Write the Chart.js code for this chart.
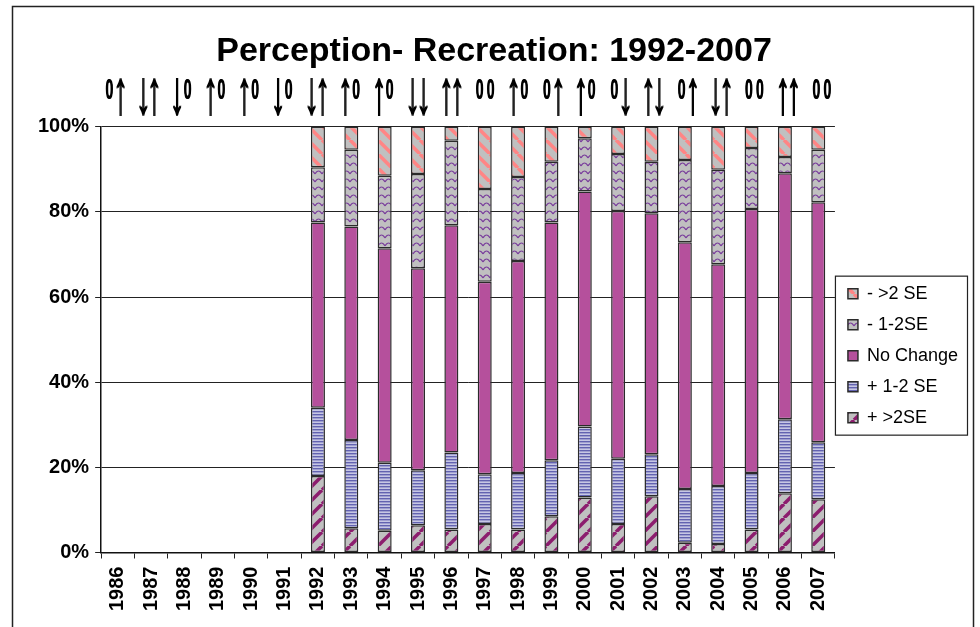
<!DOCTYPE html>
<html>
<head>
<meta charset="utf-8">
<script src="https://cdn.jsdelivr.net/npm/chart.js@4.4.1/dist/chart.umd.min.js"></script>
<style>
  html, body { margin: 0; padding: 0; background: #fff; }
</style>
</head>
<body>
<canvas id="canvas1" width="980" height="627"></canvas>
<script>
var years = ['1986', '1987', '1988', '1989', '1990', '1991', '1992', '1993', '1994', '1995', '1996',
             '1997', '1998', '1999', '2000', '2001', '2002', '2003', '2004', '2005', '2006', '2007'];

// percent of cases in each class, bottom of the stack first
var plusOver2  = [null, null, null, null, null, null, 18.0, 5.7, 5.1, 6.4, 5.4, 6.7, 5.4, 8.5, 12.9, 6.7, 13.2, 2.3, 2.0, 5.4, 13.9, 12.5];
var plusOneTwo = [null, null, null, null, null, null, 16.0, 20.7, 16.0, 12.9, 18.1, 11.7, 13.3, 13.2, 16.7, 15.3, 9.9, 12.6, 13.6, 13.3, 17.4, 13.4];
var noChange   = [null, null, null, null, null, null, 43.5, 50.2, 50.4, 47.5, 53.4, 45.2, 49.8, 55.8, 55.2, 58.2, 56.6, 58.0, 52.1, 62.0, 57.8, 56.4];
var minOneTwo  = [null, null, null, null, null, null, 13.0, 18.0, 17.0, 22.1, 19.8, 21.8, 19.7, 14.3, 12.5, 13.4, 12.1, 19.3, 22.2, 14.3, 3.8, 12.3];
var minOver2   = [null, null, null, null, null, null, 9.5, 5.4, 11.5, 11.1, 3.3, 14.6, 11.8, 8.2, 2.7, 6.4, 8.2, 7.8, 10.1, 5.0, 7.1, 5.4];

var seriesNames = ['+ >2SE', '+ 1-2 SE', 'No Change', '- 1-2SE', '- >2 SE'];

// trend symbols printed above each year
var trendMarks = ['0↑', '↓↑', '↓0', '↑0', '↑0', '↓0', '↓↑', '↑0', '↑0', '↓↓', '↑↑',
                  '00', '↑0', '0↑', '↑0', '0↓', '↑↓', '0↑', '↓↑', '00', '↑↑', '00'];

var yTicks = [0, 20, 40, 60, 80, 100];

function tile(w, h, paint) {
    var c = document.createElement('canvas');
    c.width = w; c.height = h;
    var g = c.getContext('2d');
    paint(g);
    return g.createPattern(c, 'repeat');
}

function diagonal(bg, fg, up) {
    var s = 14;
    return tile(s, s, function(g){
        g.fillStyle = bg; g.fillRect(0, 0, s, s);
        g.strokeStyle = fg; g.lineWidth = 3.5;
        [-s, 0, s].forEach(function(o){
            g.beginPath();
            if (up) { g.moveTo(o, s); g.lineTo(o + s, 0); }
            else { g.moveTo(o, 0); g.lineTo(o + s, s); }
            g.stroke();
        });
    });
}

var hatchPlus = diagonal('#c0c0c0', '#8c1d6e', true);
var hatchMinus = diagonal('#c0c0c0', '#ff8585', false);
var stripesBlue = tile(4, 3, function(g){
    g.fillStyle = '#c6c6e4'; g.fillRect(0, 0, 4, 3);
    g.fillStyle = '#6262b0'; g.fillRect(0, 0, 4, 1.4);
});
var waves = tile(7, 8, function(g){
    g.fillStyle = '#c0c0c0'; g.fillRect(0, 0, 7, 8);
    g.strokeStyle = '#7a3f9c'; g.lineWidth = 1.2;
    g.beginPath(); g.moveTo(0, 6); g.quadraticCurveTo(3.5, 0, 7, 6); g.stroke();
});

function drawGlyph(ctx, ch, left, top, w, h) {
    var m = ctx.measureText(ch);
    var gw = m.actualBoundingBoxLeft + m.actualBoundingBoxRight;
    var gh = m.actualBoundingBoxAscent + m.actualBoundingBoxDescent;
    ctx.save();
    ctx.translate(left, top);
    ctx.scale(w / gw, h / gh);
    ctx.fillText(ch, m.actualBoundingBoxLeft, m.actualBoundingBoxAscent);
    ctx.restore();
}

var extras = {
    id: 'extras',
    beforeDraw: function(chart) {
        var ctx = chart.ctx;
        ctx.save();
        ctx.fillStyle = '#fff';
        ctx.fillRect(0, 0, chart.width, chart.height);
        ctx.strokeStyle = '#222';
        ctx.lineWidth = 1.5;
        ctx.strokeRect(12.5, 6.5, 961, 700);
        ctx.restore();
    },
    afterLayout: function(chart) {
        chart.legend.top += 16;
        chart.legend.bottom += 16;
        if (chart.titleBlock) {
            chart.titleBlock.left -= 6;
            chart.titleBlock.right -= 6;
        }
    },
    afterDraw: function(chart) {
        var ctx = chart.ctx;
        var hb = chart.legend.legendHitBoxes;
        if (hb && hb.length) {
            var top = Math.min.apply(null, hb.map(function(b){ return b.top; }));
            var bottom = Math.max.apply(null, hb.map(function(b){ return b.top + b.height; }));
            ctx.save();
            ctx.strokeStyle = '#222';
            ctx.lineWidth = 1.2;
            ctx.strokeRect(chart.chartArea.right + 0.5, top - 8.5, chart.legend.right - chart.chartArea.right - 1, bottom - top + 17);
            ctx.restore();
        }
        var xs = chart.scales.x;
        ctx.save();
        ctx.font = 'bold 40px "Liberation Sans", Arial, sans-serif';
        ctx.fillStyle = '#000';
        ctx.textAlign = 'left';
        ctx.textBaseline = 'alphabetic';
        trendMarks.forEach(function(mark, i){
            var cx = xs.getPixelForValue(i) - 3 + i * 0.31;
            Array.from(mark).forEach(function(ch, k){
                var left = k === 0 ? cx - 9 : cx + 2;
                // each symbol drawn twice, half a pixel apart, for heavier strokes
                if (ch === '0') {
                    drawGlyph(ctx, ch, left - 0.25, 77.5, 7, 21);
                    drawGlyph(ctx, ch, left + 0.25, 77.5, 7, 21);
                } else {
                    drawGlyph(ctx, ch, left - 0.5, 77, 7.5, 40);
                    drawGlyph(ctx, ch, left + 0.5, 77, 7.5, 40);
                }
            });
        });
        ctx.restore();
    }
};

var fills = [hatchPlus, stripesBlue, '#b5509c', waves, hatchMinus];
var values = [plusOver2, plusOneTwo, noChange, minOneTwo, minOver2];

new Chart(document.getElementById('canvas1'), {
    type: 'bar',
    data: {
        labels: years,
        datasets: values.map(function(v, i){
            return {
                label: seriesNames[i],
                data: v,
                backgroundColor: fills[i],
                borderColor: '#2b2b2b',
                borderWidth: 1.5,
                borderSkipped: false,
                barPercentage: 0.42,
                categoryPercentage: 1.0
            };
        })
    },
    options: {
        responsive: false,
        animation: false,
        layout: { padding: { top: 8, left: 32, right: 12, bottom: 8 } },
        plugins: {
            title: {
                display: true,
                text: 'Perception- Recreation: 1992-2007',
                color: '#000',
                font: { family: '"Liberation Sans", Arial, sans-serif', size: 34, weight: 'bold' },
                padding: { top: 23, bottom: 55 }
            },
            legend: {
                position: 'right',
                fullSize: false,
                reverse: true,
                labels: {
                    boxWidth: 10,
                    boxHeight: 10,
                    padding: 13,
                    color: '#000',
                    font: { family: '"Liberation Sans", Arial, sans-serif', size: 18 }
                }
            },
            tooltip: { enabled: false }
        },
        scales: {
            x: {
                stacked: true,
                grid: { drawOnChartArea: false, drawTicks: true, tickLength: 6, color: '#222', offset: true },
                border: { color: '#111', width: 1.5 },
                ticks: {
                    autoSkip: false,
                    minRotation: 90,
                    maxRotation: 90,
                    padding: 8,
                    color: '#000',
                    font: { family: '"Liberation Sans", Arial, sans-serif', size: 20, weight: 'bold' }
                }
            },
            y: {
                stacked: true,
                min: 0,
                max: 100,
                afterBuildTicks: function(axis){
                    axis.ticks = yTicks.map(function(v){ return { value: v }; });
                },
                grid: { color: '#222', lineWidth: 1, tickLength: 6 },
                border: { color: '#111', width: 1.5 },
                ticks: {
                    padding: 6,
                    color: '#000',
                    font: { family: '"Liberation Sans", Arial, sans-serif', size: 20, weight: 'bold' },
                    callback: function(v){ return v + '%'; }
                }
            }
        }
    },
    plugins: [extras]
});
</script>
</body>
</html>
